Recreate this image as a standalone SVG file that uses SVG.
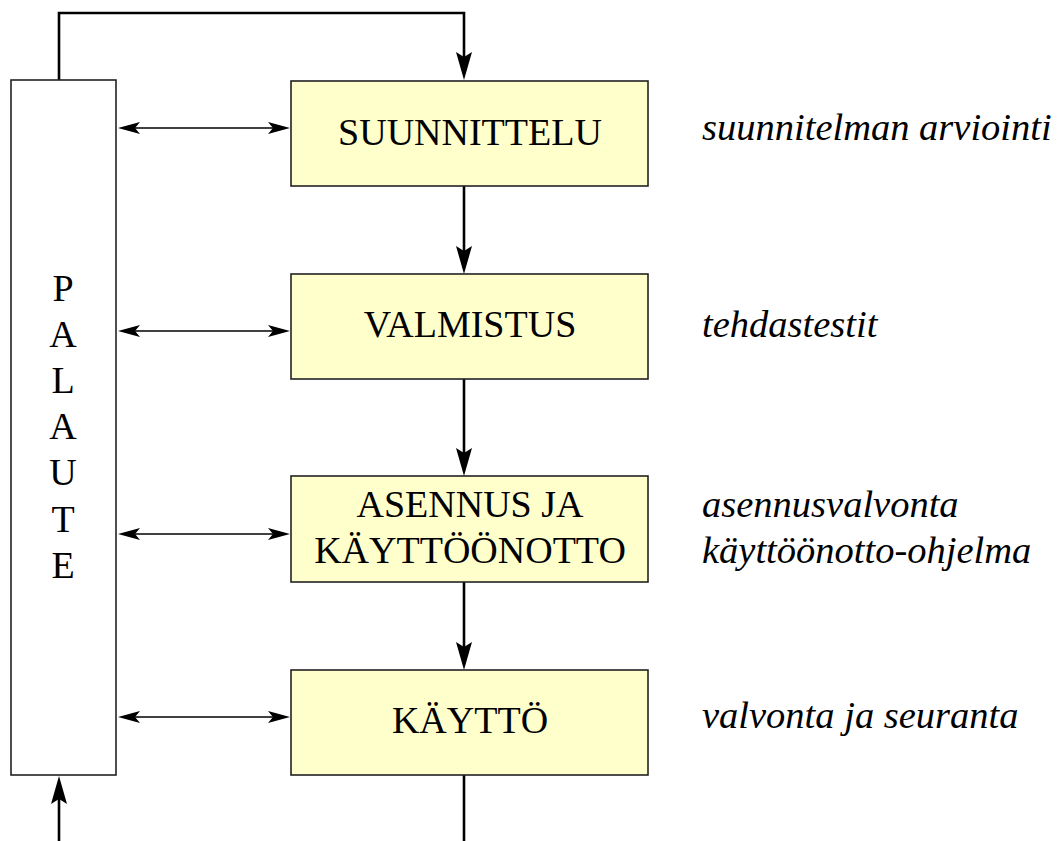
<svg xmlns="http://www.w3.org/2000/svg" width="1062" height="841" viewBox="0 0 1062 841">
<style>
.box{fill:#ffffcc;stroke:#222;stroke-width:1.6}
.pal{fill:#fff;stroke:#222;stroke-width:1.6}
.t{font-family:"Liberation Serif","Times New Roman",serif;font-size:38px;fill:#000;text-anchor:middle}
.n{font-family:"Liberation Serif","Times New Roman",serif;font-size:38.5px;font-style:italic;fill:#000}
.flow{fill:none;stroke:#000;stroke-width:2.6}
.fb{fill:none;stroke:#000;stroke-width:1.4}
</style>
<defs>
<marker id="big" markerUnits="userSpaceOnUse" markerWidth="30" markerHeight="20" viewBox="0 -10 30 20" refX="5" refY="0" orient="auto" overflow="visible">
<path d="M0,-8 L28,0 L0,8 L5,0 Z" fill="#000"/>
</marker>
<marker id="small" markerUnits="userSpaceOnUse" markerWidth="24" markerHeight="14" viewBox="0 -7 24 14" refX="5" refY="0" orient="auto-start-reverse" overflow="visible">
<path d="M0,-6 L22,0 L0,6 L5,0 Z" fill="#000"/>
</marker>
</defs>
<g id="connectors">
<path class="flow" d="M59,80 V13 H464 V57" marker-end="url(#big)"/>
<path class="flow" d="M464,186 V251" marker-end="url(#big)"/>
<path class="flow" d="M464,379 V453" marker-end="url(#big)"/>
<path class="flow" d="M464,582 V647" marker-end="url(#big)"/>
<path class="flow" d="M464,775 V841"/>
<path class="flow" d="M59,841 V799" marker-end="url(#big)"/>
<path class="fb" d="M135,128 H273" marker-start="url(#small)" marker-end="url(#small)"/>
<path class="fb" d="M135,331 H273" marker-start="url(#small)" marker-end="url(#small)"/>
<path class="fb" d="M135,534 H273" marker-start="url(#small)" marker-end="url(#small)"/>
<path class="fb" d="M135,717 H273" marker-start="url(#small)" marker-end="url(#small)"/>
</g>
<g id="palaute">
<rect class="pal" x="11" y="80" width="105" height="695"/>
<text class="t" x="63" y="301">P</text>
<text class="t" x="63" y="347">A</text>
<text class="t" x="63" y="393">L</text>
<text class="t" x="63" y="439">A</text>
<text class="t" x="63" y="485">U</text>
<text class="t" x="63" y="532">T</text>
<text class="t" x="63" y="578">E</text>
</g>
<g id="suunnittelu">
<rect class="box" x="291" y="81" width="357" height="105"/>
<text class="t" x="470" y="145">SUUNNITTELU</text>
</g>
<g id="valmistus">
<rect class="box" x="291" y="274" width="357" height="105"/>
<text class="t" x="470" y="337">VALMISTUS</text>
</g>
<g id="asennus">
<rect class="box" x="291" y="476" width="357" height="106"/>
<text class="t" x="470" y="517">ASENNUS JA</text>
<text class="t" x="470" y="563">KÄYTTÖÖNOTTO</text>
</g>
<g id="kaytto">
<rect class="box" x="291" y="670" width="357" height="105"/>
<text class="t" x="470" y="733">KÄYTTÖ</text>
</g>
<g id="notes">
<text class="n" x="702" y="140">suunnitelman arviointi</text>
<text class="n" x="702" y="337">tehdastestit</text>
<text class="n" x="702" y="517">asennusvalvonta</text>
<text class="n" x="702" y="563">käyttöönotto-ohjelma</text>
<text class="n" x="702" y="728">valvonta ja seuranta</text>
</g>
</svg>
